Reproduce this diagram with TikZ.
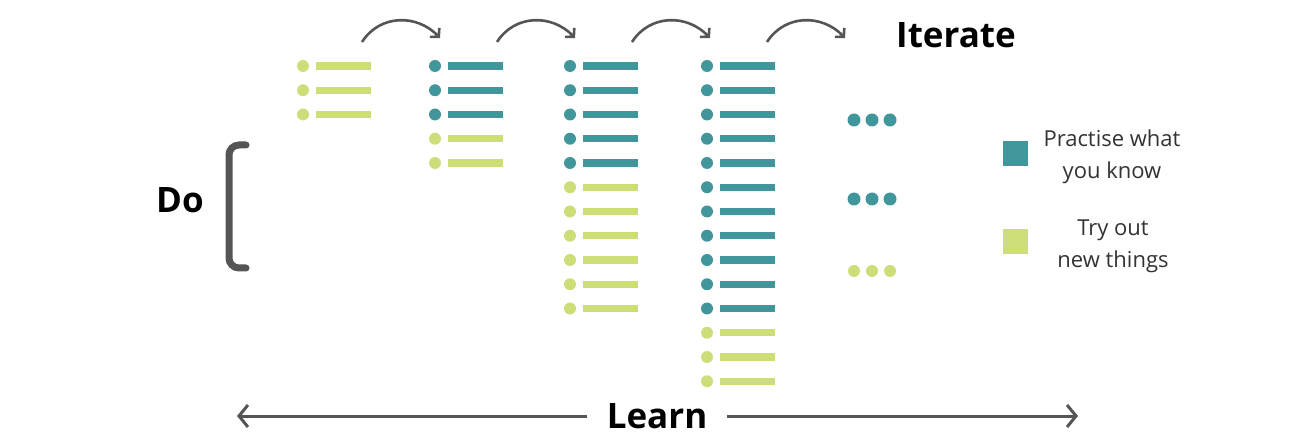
\documentclass[tikz,border=0pt]{standalone}
\usepackage{fontspec}
\setmainfont{Open Sans}
\usetikzlibrary{arrows.meta}
\definecolor{practise}{HTML}{41969B}
\definecolor{tryout}{HTML}{CDDE78}
\definecolor{arrowgray}{HTML}{555555}

% one line of a to-do list: dot and bar
\newcommand\listitem[3]{%
    \fill[#3] (#1,#2) circle (6);
    \fill[#3] (#1+13,#2-3.6) rectangle (#1+68,#2+3.6);}

\begin{document}
\begin{tikzpicture}[x=1pt, y=-1pt,
            loop/.style={line width=2.6pt, draw=arrowgray, -{Straight Barb[length=6pt, width=13pt, line width=2.6pt]}},
            axis/.style={line width=3pt, draw=arrowgray, -{Straight Barb[length=9pt, width=22pt, line width=3pt]}},
            title/.style={font=\fontsize{35}{40}\selectfont\bfseries},
            key/.style={minimum size=25pt, inner sep=0pt},
            keytext/.style={font=\fontsize{22}{32}\selectfont, color=black!80, align=center},
        ]
            \useasboundingbox (0,0) rectangle (1315,438);

            % columns of tasks
            \foreach \r in {0,1,2} {\listitem{303}{66+24.25*\r}{tryout}}
            \foreach \r in {0,1,2} {\listitem{435}{66+24.25*\r}{practise}}
            \foreach \r in {3,4} {\listitem{435}{66+24.25*\r}{tryout}}
            \foreach \r in {0,...,4} {\listitem{570}{66+24.25*\r}{practise}}
            \foreach \r in {5,...,10} {\listitem{570}{66+24.25*\r}{tryout}}
            \foreach \r in {0,...,10} {\listitem{707}{66+24.25*\r}{practise}}
            \foreach \r in {11,12,13} {\listitem{707}{66+24.25*\r}{tryout}}

            % and so on
            \foreach \i in {0,1,2} {
                \fill[practise] (854+18*\i,120) circle (6.5);
                \fill[practise] (854+18*\i,199) circle (6.5);
                \fill[tryout] (854+18*\i,271) circle (6);
            }

            % iterate arrows
            \node[title] (iterate) at (956,35) {Iterate};
            \foreach \x [count=\n] in {362,497,632,767} {
                \coordinate (from\n) at (\x,42);
                \coordinate (to\n) at (\x+78,38);
                \draw[loop] (from\n) .. controls (\x+18,14) and (\x+55,14) .. (to\n);
            }

            % do bracket
            \node[title] (do) at (180,200) {Do};
            \draw[line width=7pt, draw=arrowgray, line cap=round, rounded corners=10pt]
                (246,145) -- (229,145) -- (229,268) -- (246,268);

            % learn axis
            \node[title, inner xsep=20pt] (learn) at (657,416) {Learn};
            \coordinate (learnleft) at (237,416);
            \coordinate (learnright) at (1078,416);
            \draw[axis] (learn.west |- learnleft) -- (learnleft);
            \draw[axis] (learn.east |- learnright) -- (learnright);

            % key
            \node[key, fill=practise] (keyp) at (1015.5,153.5) {};
            \node[keytext] (keyptext) at (1112,157) {Practise what\\you know};
            \node[key, fill=tryout] (keyt) at (1015.5,242) {};
            \node[keytext] (keyttext) at (1113,246) {Try out\\new things};
        \end{tikzpicture}
\end{document}
